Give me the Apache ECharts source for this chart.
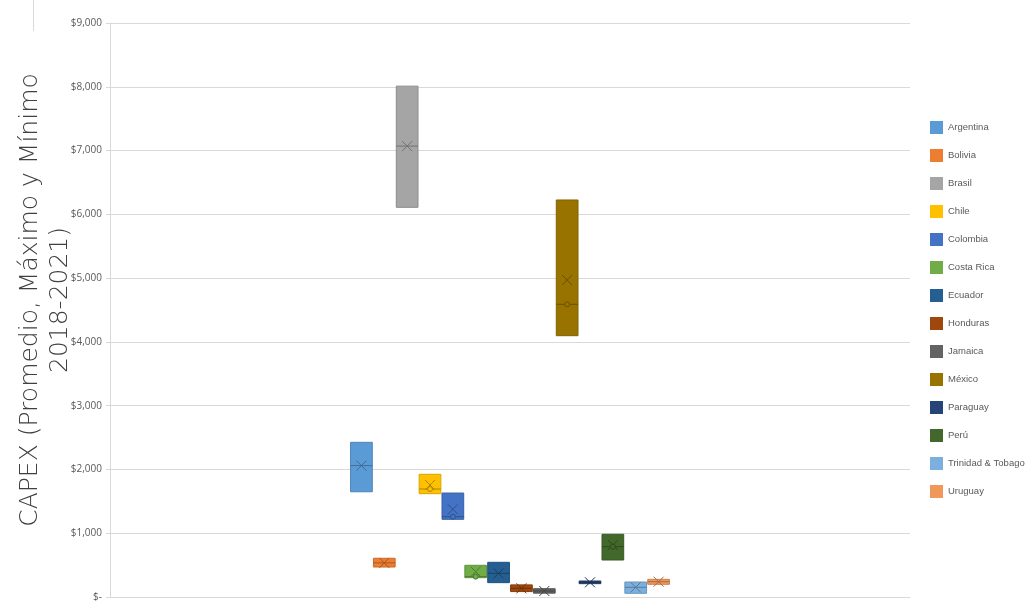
<!DOCTYPE html>
<html>
<head>
<meta charset="utf-8">
<script src="https://cdn.jsdelivr.net/npm/echarts@6/dist/echarts.min.js"></script>
<style>
html,body{margin:0;padding:0;background:#fff;}
#chart{width:1027px;height:603px;}
</style>
</head>
<body>
<div id="chart"></div>
<script>
// ---- data ----
const countries = ['Argentina','Bolivia','Brasil','Chile','Colombia','Costa Rica','Ecuador','Honduras','Jamaica','México','Paraguay','Perú','Trinidad & Tobago','Uruguay'];
const minValues    = [1650, 470, 6110, 1620, 1218, 303, 225,  85,  60, 4097, 209, 580,  58, 199];
const maxValues    = [2425, 607, 8010, 1924, 1630, 497, 544, 190, 130, 6225, 251, 983, 235, 277];
const meanValues   = [2060, 535, 7070, 1756, 1375, 397, 371, 136,  94, 4970, 230, 815, 152, 240];
const medianValues = [2060, 535, 7070, 1693, 1259, 319, 371, 136,  94, 4589, 230, 789, 152, 240];
const innerPoints  = [null, null, null, 1693, 1259, 319, null, null, null, 4589, null, 789, null, null];
const colors = ['#5B9BD5','#ED7D31','#A5A5A5','#FFC000','#4472C4','#70AD47','#255E91','#9E480E','#636363','#997300','#264478','#43682B','#7CAFDD','#F1975A'];
const yTicks = [0,1000,2000,3000,4000,5000,6000,7000,8000,9000];

const chart = echarts.init(document.getElementById('chart'));

function darken(c, f) {
  const a = echarts.color.parse(c);
  return 'rgb(' + Math.round(a[0] * f) + ',' + Math.round(a[1] * f) + ',' + Math.round(a[2] * f) + ')';
}

function renderBox(params, api) {
  const i = api.value(0);
  const lo = api.value(1), hi = api.value(2), mean = api.value(3), med = api.value(4), pt = api.value(5);
  const color = api.visual('color');
  const edge = darken(color, 0.85);
  const dark = darken(color, 0.7);
  const w = api.size([0.95, 0])[0];
  const pLo = api.coord([i, lo]);
  const pHi = api.coord([i, hi]);
  const pMean = api.coord([i, mean]);
  const pMed = api.coord([i, med]);
  const x0 = pLo[0] - w / 2;
  const children = [
    { type: 'rect', shape: { x: x0, y: pHi[1], width: w, height: pLo[1] - pHi[1] },
      style: { fill: color, stroke: edge, lineWidth: 1 } },
    { type: 'line', shape: { x1: x0, y1: pMed[1], x2: x0 + w, y2: pMed[1] },
      style: { stroke: dark, lineWidth: 1 } },
    { type: 'line', shape: { x1: pMean[0] - 5, y1: pMean[1] - 5, x2: pMean[0] + 5, y2: pMean[1] + 5 },
      style: { stroke: dark, lineWidth: 1 } },
    { type: 'line', shape: { x1: pMean[0] - 5, y1: pMean[1] + 5, x2: pMean[0] + 5, y2: pMean[1] - 5 },
      style: { stroke: dark, lineWidth: 1 } }
  ];
  if (pt != null && !isNaN(pt)) {
    const pp = api.coord([i, pt]);
    children.push({ type: 'circle', shape: { cx: pp[0], cy: pp[1], r: 2.5 },
      style: { fill: color, stroke: dark, lineWidth: 1 } });
  }
  return { type: 'group', children: children };
}

const series = countries.map((name, i) => ({
  name: name,
  type: 'custom',
  renderItem: renderBox,
  itemStyle: { color: colors[i] },
  encode: { x: 0, y: [1, 2] },
  data: [[i, minValues[i], maxValues[i], meanValues[i], medianValues[i], innerPoints[i] == null ? NaN : innerPoints[i]]]
}));

function fmt(v) {
  if (v === 0) return '$-';
  return '$' + v.toLocaleString('en-US');
}

chart.setOption({
  animation: false,
  color: colors,
  grid: { left: 110, right: 117, top: 23, bottom: 6 },
  xAxis: {
    type: 'value', min: -11, max: 24,
    axisLine: { show: true, onZero: false, lineStyle: { color: '#d9d9d9' } },
    axisTick: { show: false }, axisLabel: { show: false }, splitLine: { show: false }
  },
  yAxis: {
    type: 'value', min: yTicks[0], max: yTicks[yTicks.length - 1], interval: 1000,
    axisLine: { show: true, onZero: false, lineStyle: { color: '#d9d9d9' } },
    axisTick: { show: true, length: 4, lineStyle: { color: '#d9d9d9' } },
    axisLabel: { formatter: fmt, color: '#595959', fontSize: 10, fontFamily: 'Open Sans', margin: 8 },
    splitLine: { show: true, lineStyle: { color: '#d9d9d9', width: 1 } }
  },
  legend: {
    orient: 'vertical', left: 925, top: 116,
    itemWidth: 13, itemHeight: 13, itemGap: 15, icon: 'rect',
    textStyle: { color: '#595959', fontSize: 9.5, fontFamily: 'Liberation Sans' },
    data: countries
  },
  graphic: [
    { type: 'text', x: 30, y: 300, rotation: Math.PI / 2,
      style: { text: 'CAPEX (Promedio, Máximo y Mínimo', fill: '#404040', font: '200 25px "DejaVu Sans ExtraLight", "DejaVu Sans"', textAlign: 'center', textVerticalAlign: 'middle' } },
    { type: 'text', x: 60, y: 300, rotation: Math.PI / 2,
      style: { text: '2018-2021)', fill: '#404040', font: '200 25px "DejaVu Sans ExtraLight", "DejaVu Sans"', textAlign: 'center', textVerticalAlign: 'middle' } },
    { type: 'line', shape: { x1: 33.5, y1: 0, x2: 33.5, y2: 31 }, style: { stroke: '#d9d9d9', lineWidth: 1 } }
  ],
  series: series
});
</script>
</body>
</html>
